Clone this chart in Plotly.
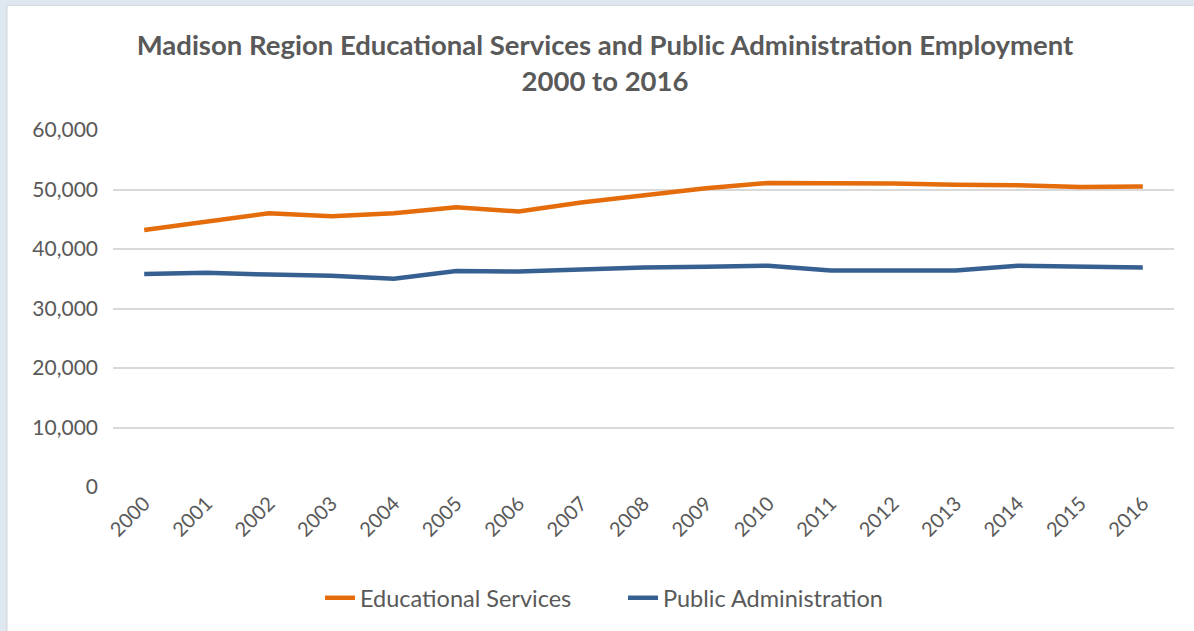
import plotly.graph_objects as go

years = [str(y) for y in range(2000, 2017)]
educational_services = [43200, 44600, 46000, 45500, 46000, 47000, 46300, 47800, 49000,
                        50200, 51100, 51100, 51000, 50800, 50700, 50400, 50500]
public_administration = [35800, 36000, 35700, 35500, 35000, 36300, 36200, 36500, 36900,
                         37000, 37200, 36400, 36400, 36400, 37200, 37000, 36900]
y_ticks = [0, 10000, 20000, 30000, 40000, 50000, 60000]

W, H = 1194, 631
ML, MR, MT, MB = 113, 20, 130, 143
pw, ph = W - ML - MR, H - MT - MB

def px_x(p):
    return (p - ML) / pw

def px_y(p):
    return (H - MB - p) / ph

fig = go.Figure()
fig.add_trace(go.Scatter(x=years, y=educational_services, mode="lines",
                         name="Educational Services",
                         line=dict(color="#E46C0A", width=4.5)))
fig.add_trace(go.Scatter(x=years, y=public_administration, mode="lines",
                         name="Public Administration",
                         line=dict(color="#376092", width=4.5)))

# white chart card over a pale blue frame
fig.add_shape(type="rect", xref="paper", yref="paper", layer="below",
              x0=px_x(7), x1=px_x(W + 5), y0=px_y(H + 5), y1=px_y(5),
              fillcolor="white", line=dict(color="#d0d4da", width=1))

font_family = "Lato, 'Open Sans', sans-serif"
fig.update_layout(
    width=W, height=H,
    margin=dict(l=ML, r=MR, t=MT, b=MB),
    paper_bgcolor="#dfe7f1",
    plot_bgcolor="rgba(0,0,0,0)",
    font=dict(family=font_family, color="#595959", size=18),
    title=dict(
        text="<b>Madison Region Educational Services and Public Administration Employment<br>2000 to 2016</b>",
        x=605 / W, xanchor="center", y=1 - 55 / H, yanchor="middle",
        font=dict(size=27.5, color="#595959", family=font_family),
    ),
    xaxis=dict(type="category", range=[-0.5, 16.5], showgrid=False, showline=False,
               ticks="", tickangle=-45, tickfont=dict(size=20, color="#595959")),
    yaxis=dict(range=[0, 60000], tickvals=y_ticks, tickformat=",", showgrid=True,
               gridcolor="#d9d9d9", gridwidth=1.5, zeroline=False, showline=False,
               ticks="", ticklabelstandoff=14, tickfont=dict(size=21, color="#595959")),
    legend=dict(orientation="h", x=px_x(320), xanchor="left",
                y=px_y(598), yanchor="middle", font=dict(size=23.5, color="#595959"),
                bgcolor="rgba(0,0,0,0)", entrywidth=258, entrywidthmode="pixels",
                tracegroupgap=0),
    showlegend=True,
)

fig.write_html("out.html")
